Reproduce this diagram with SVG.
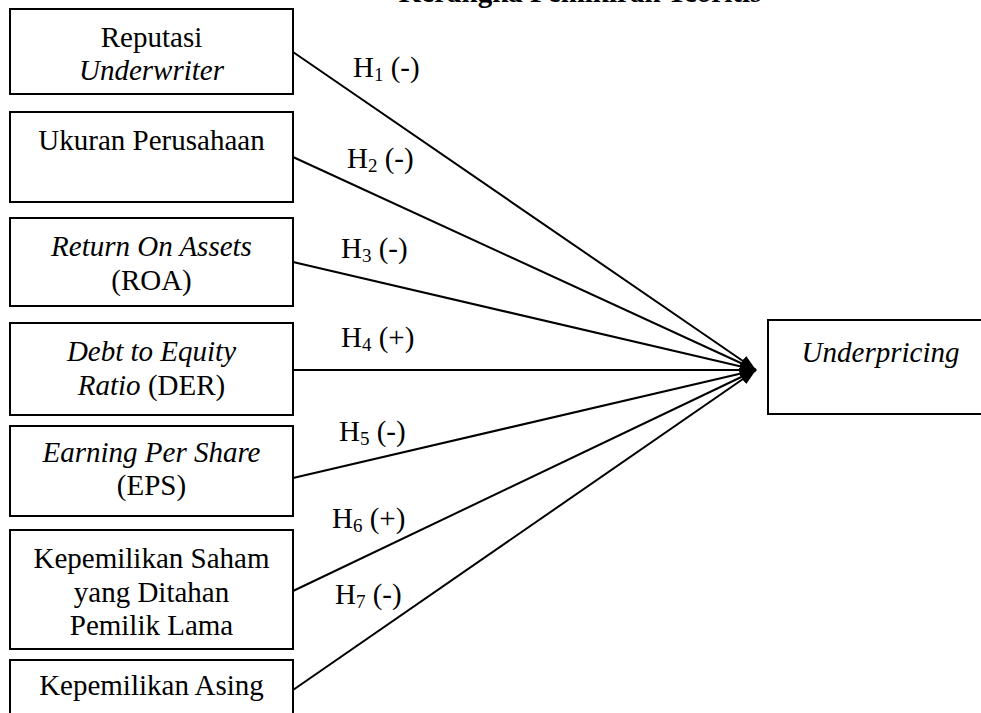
<svg xmlns="http://www.w3.org/2000/svg" width="981" height="713" viewBox="0 0 981 713">
<style>
.box{fill:#fff;stroke:#000;stroke-width:2}
.t{font-family:"Liberation Serif","Times New Roman",serif;font-size:29px;fill:#000}
.c{text-anchor:middle}
.i{font-style:italic}
.conn line{stroke:#000;stroke-width:2;marker-end:url(#ah)}
.sub{font-size:19px}
</style>
<defs>
<marker id="ah" markerUnits="userSpaceOnUse" markerWidth="18" markerHeight="12" refX="16" refY="6" orient="auto">
<path d="M0,0 L16,6 L0,12 z" fill="#000"/>
</marker>
</defs>
<text class="t" x="580" y="2" text-anchor="middle" font-weight="bold">Kerangka Pemikiran Teoritis</text>
<g id="n1"><rect class="box" x="10" y="9" width="283" height="85"/>
<text class="t c" x="151.5" y="47">Reputasi</text><text class="t c i" x="151.5" y="80">Underwriter</text></g>
<g id="n2"><rect class="box" x="10" y="112" width="283" height="90"/>
<text class="t c" x="151.5" y="150">Ukuran Perusahaan</text></g>
<g id="n3"><rect class="box" x="10" y="218" width="283" height="88"/>
<text class="t c i" x="151.5" y="256">Return On Assets</text><text class="t c" x="151.5" y="290">(ROA)</text></g>
<g id="n4"><rect class="box" x="10" y="323" width="283" height="92"/>
<text class="t c i" x="151.5" y="361">Debt to Equity</text><text class="t c" x="151.5" y="395"><tspan font-style="italic">Ratio</tspan> (DER)</text></g>
<g id="n5"><rect class="box" x="10" y="426" width="283" height="90"/>
<text class="t c i" x="151.5" y="462">Earning Per Share</text><text class="t c" x="151.5" y="495">(EPS)</text></g>
<g id="n6"><rect class="box" x="10" y="530" width="283" height="119"/>
<text class="t c" x="151.5" y="568">Kepemilikan Saham</text><text class="t c" x="151.5" y="602">yang Ditahan</text><text class="t c" x="151.5" y="635">Pemilik Lama</text></g>
<g id="n7"><rect class="box" x="10" y="660" width="283" height="70"/>
<text class="t c" x="151.5" y="695">Kepemilikan Asing</text></g>
<g id="n8"><rect class="box" x="768" y="320" width="230" height="94"/>
<text class="t c i" x="880.5" y="362">Underpricing</text></g>
<g id="connectors" class="conn">
<line x1="293" y1="52" x2="756" y2="370"/>
<line x1="293" y1="157" x2="756" y2="370"/>
<line x1="293" y1="262" x2="756" y2="370"/>
<line x1="293" y1="370" x2="756" y2="370"/>
<line x1="293" y1="478" x2="756" y2="370"/>
<line x1="293" y1="591" x2="756" y2="370"/>
<line x1="293" y1="690" x2="756" y2="370"/>
</g>
<g id="labels">
<text class="t" x="353" y="77">H<tspan class="sub" dy="4">1</tspan><tspan dy="-4"> (-)</tspan></text>
<text class="t" x="347" y="168">H<tspan class="sub" dy="4">2</tspan><tspan dy="-4"> (-)</tspan></text>
<text class="t" x="341" y="258">H<tspan class="sub" dy="4">3</tspan><tspan dy="-4"> (-)</tspan></text>
<text class="t" x="341" y="347">H<tspan class="sub" dy="4">4</tspan><tspan dy="-4"> (+)</tspan></text>
<text class="t" x="339" y="441">H<tspan class="sub" dy="4">5</tspan><tspan dy="-4"> (-)</tspan></text>
<text class="t" x="332" y="528">H<tspan class="sub" dy="4">6</tspan><tspan dy="-4"> (+)</tspan></text>
<text class="t" x="335" y="604">H<tspan class="sub" dy="4">7</tspan><tspan dy="-4"> (-)</tspan></text>
</g>
</svg>
